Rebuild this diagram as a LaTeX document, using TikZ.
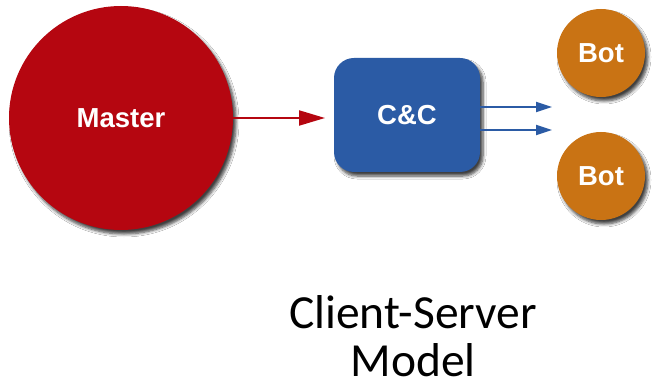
\documentclass[tikz,border=0pt]{standalone}
\usepackage{fontspec}
\setmainfont{Carlito}
\newfontfamily\labelfont{Liberation Sans}
\usetikzlibrary{arrows.meta,shadows.blur}
\definecolor{masterred}{RGB}{181,6,16}
\definecolor{ccblue}{RGB}{43,91,165}
\definecolor{botorange}{RGB}{201,115,20}
\tikzset{
  softshadow/.style={blur shadow={shadow xshift=3pt, shadow yshift=-4pt, shadow blur steps=6, shadow blur radius=3pt, shadow opacity=75}},
  roundnode/.style={circle, inner sep=0pt, text=white, font=\labelfont\bfseries\fontsize{27.5}{30}\selectfont, softshadow},
  boxnode/.style={rectangle, rounded corners=20pt, inner sep=0pt, fill=ccblue, text=white, font=\labelfont\bfseries\fontsize{27.5}{30}\selectfont, softshadow},
  redlink/.style={draw=masterred, line width=2pt, -{Triangle[length=26pt, width=15pt]}},
  bluelink/.style={draw=ccblue, line width=2pt, -{Triangle[length=16pt, width=10pt]}},
}
\begin{document}
\begin{tikzpicture}[x=1pt, y=-1pt]
  \useasboundingbox (0,0) rectangle (655,387);
  \fill[white] (0,0) rectangle (655,387);

  % master node
  \node[roundnode, fill=masterred, minimum size=224pt] (master) at (121,118) {Master};
  % command and control server
  \node[boxnode, minimum width=146pt, minimum height=114pt] (cc) at (407,115) {C\&C};
  % bots
  \node[roundnode, fill=botorange, minimum size=88pt] (bot1) at (601,53) {Bot};
  \node[roundnode, fill=botorange, minimum size=88pt] (bot2) at (601,176) {Bot};

  % connections
  \coordinate (ccin) at (325,118);
  \draw[redlink] (master.east |- ccin) -- (ccin);
  \coordinate (t1) at (552,107);
  \coordinate (t2) at (552,130);
  \draw[bluelink] (cc.east |- t1) -- (t1);
  \draw[bluelink] (cc.east |- t2) -- (t2);

  % caption
  \node[align=center, font=\fontsize{47.5}{48}\selectfont, text=black] (caption) at (413,336) {Client-Server\\Model};
\end{tikzpicture}
\end{document}
